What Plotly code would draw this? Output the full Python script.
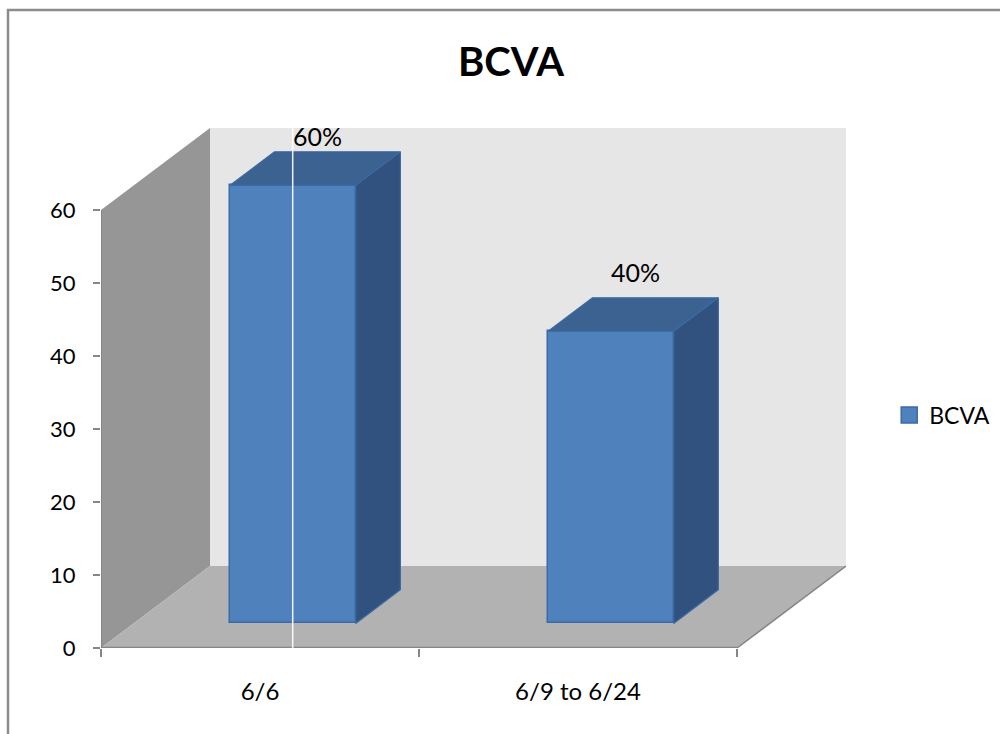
import plotly.graph_objects as go

# ---- data ----
categories = ["6/6", "6/9 to 6/24"]
values = [60, 40]
value_labels = ["60%", "40%"]
y_ticks = [0, 10, 20, 30, 40, 50, 60]
series_name = "BCVA"

# ---- oblique 3-D geometry (axis units) ----
X_LO, X_HI = -0.5, 1.8428          # visible x range
Y_TOP = 71.23                      # visible y range top
WALL_H = 60                        # wall height
DX, DY = X_HI - 1.5, Y_TOP - WALL_H  # full depth shift of the back plane
F1, F2 = 0.30, 0.71                # bar front / back depth fractions
W = 0.396                          # bar width

FRONT = "#4f81bd"
TOP = "#3c6291"
SIDE = "#31527e"
EDGE = "#3c6aa4"
AXIS = "#868686"
FONT = "Lato"

fig = go.Figure()

# bar front faces
fig.add_trace(go.Bar(
    x=list(range(len(categories))), y=values, base=F1 * DY,
    offset=F1 * DX - W / 2, width=W, name=series_name,
    marker=dict(color=FRONT, line=dict(color=EDGE, width=1.5)),
    showlegend=False, hoverinfo="skip",
))

# legend entry for the series
fig.add_trace(go.Scatter(
    x=[None], y=[None], mode="markers", name=series_name,
    marker=dict(symbol="square", size=16, color=FRONT, line=dict(color=EDGE, width=1.5)),
    showlegend=True, hoverinfo="skip",
))

# bar tops and right sides
bdx, bdy = (F2 - F1) * DX, (F2 - F1) * DY
for i, v in enumerate(values):
    x0 = i + F1 * DX - W / 2
    x1 = x0 + W
    y0 = F1 * DY
    y1 = v + y0
    fig.add_trace(go.Scatter(
        x=[x0, x1, x1 + bdx, x0 + bdx, x0], y=[y1, y1, y1 + bdy, y1 + bdy, y1],
        fill="toself", fillcolor=TOP, mode="lines",
        line=dict(color=EDGE, width=1.2), showlegend=False, hoverinfo="skip"))
    fig.add_trace(go.Scatter(
        x=[x1, x1, x1 + bdx, x1 + bdx, x1], y=[y0, y1, y1 + bdy, y0 + bdy, y0],
        fill="toself", fillcolor=SIDE, mode="lines",
        line=dict(color=EDGE, width=1.2), showlegend=False, hoverinfo="skip"))

# value labels above each bar
label_shift = [16, 26]
for i, (v, t) in enumerate(zip(values, value_labels)):
    fig.add_annotation(
        x=i + F1 * DX + bdx / 2 + 0.008, y=v + F2 * DY, text=t, showarrow=False,
        yanchor="middle", yshift=label_shift[i],
        font=dict(family=FONT, size=25, color="#000000"))


def poly(pts):
    return "M " + " L ".join(f"{x},{y}" for x, y in pts) + " Z"


shapes = [
    # back wall
    dict(type="path", layer="below", line=dict(width=0), fillcolor="#e6e6e6",
         path=poly([(X_LO + DX, DY), (1.5 + DX, DY), (1.5 + DX, WALL_H + DY), (X_LO + DX, WALL_H + DY)])),
    # side wall
    dict(type="path", layer="below", line=dict(width=0), fillcolor="#969696",
         path=poly([(X_LO, 0), (X_LO, WALL_H), (X_LO + DX, WALL_H + DY), (X_LO + DX, DY)])),
    # floor
    dict(type="path", layer="below", line=dict(width=0), fillcolor="#b2b2b2",
         path=poly([(X_LO, 0), (1.5, 0), (1.5 + DX, DY), (X_LO + DX, DY)])),
    # axis edges
    dict(type="line", x0=X_LO, x1=X_LO, y0=0, y1=WALL_H, line=dict(color=AXIS, width=2)),
    dict(type="line", x0=X_LO, x1=1.5, y0=0, y1=0, line=dict(color=AXIS, width=2.5)),
    dict(type="line", x0=1.5, x1=1.5 + DX, y0=0, y1=DY, line=dict(color=AXIS, width=1.5)),
    # thin light line through the first bar
    dict(type="line", x0=F1 * DX, x1=F1 * DX, y0=-0.3, y1=WALL_H + DY,
         line=dict(color="rgba(255,255,255,0.9)", width=1.5)),
]

# outer chart frame (left and top edges visible)
ML, MT, MB, MR = 101, 128, 86, 154
PW, PH = 1000 - ML - MR, 734 - MT - MB
shapes.append(dict(type="rect", xref="paper", yref="paper",
                   x0=(8 - ML) / PW, x1=1.5, y0=-0.6, y1=(734 - MB - 10) / PH,
                   line=dict(color="#8c8c8c", width=2.5), layer="below"))

fig.update_layout(
    width=1000, height=734, autosize=False,
    margin=dict(l=ML, r=MR, t=MT, b=MB, autoexpand=False),
    paper_bgcolor="white", plot_bgcolor="rgba(0,0,0,0)",
    shapes=shapes,
    title=dict(text="<b>BCVA</b>", x=0.511, y=1 - 62 / 734, xanchor="center", yanchor="middle",
               font=dict(family=FONT, size=40, color="#000000")),
    xaxis=dict(range=[X_LO, X_HI], tickvals=[0, 1], ticktext=categories, ticks="",
               showgrid=False, zeroline=False, showline=False, ticklabelstandoff=27,
               tickfont=dict(family=FONT, size=24, color="#000000"),
               minor=dict(tickvals=[-0.5, 0.5, 1.5], ticks="outside", ticklen=8,
                          tickwidth=2, tickcolor=AXIS, showgrid=False)),
    yaxis=dict(range=[0, Y_TOP], tickvals=y_ticks, ticks="outside", ticklen=7, tickwidth=2,
               tickcolor=AXIS, showgrid=False, zeroline=False, showline=False,
               ticklabelstandoff=13, tickfont=dict(family=FONT, size=22, color="#000000")),
    legend=dict(x=1.058, y=0.448, xanchor="left", yanchor="middle", itemsizing="trace",
                font=dict(family=FONT, size=23, color="#000000"), bgcolor="rgba(0,0,0,0)",
                itemwidth=30),
    bargap=0,
)

fig.write_html("out.html")
